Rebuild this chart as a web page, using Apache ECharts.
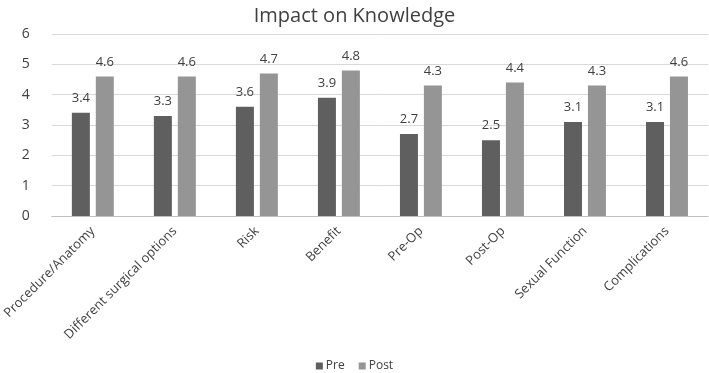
<!DOCTYPE html>
<html>
<head>
<meta charset="utf-8">
<script src="https://cdn.jsdelivr.net/npm/echarts@6/dist/echarts.min.js"></script>
<style>
  html, body { margin: 0; padding: 0; background: #fff; }
  #chart { width: 709px; height: 373px; }
</style>
</head>
<body>
<div id="chart"></div>
<script>
// data
var categories = ["Procedure/Anatomy", "Different surgical options", "Risk", "Benefit", "Pre-Op", "Post-Op", "Sexual Function", "Complications"];
var preValues = [3.4, 3.3, 3.6, 3.9, 2.7, 2.5, 3.1, 3.1];
var postValues = [4.6, 4.6, 4.7, 4.8, 4.3, 4.4, 4.3, 4.6];
var yTicks = [0, 1, 2, 3, 4, 5, 6];

var font = "'Open Sans', sans-serif";
var chart = echarts.init(document.getElementById("chart"));

var labelStyle = {
  show: true,
  position: "top",
  distance: 8,
  color: "#404040",
  fontSize: 13,
  fontFamily: font
};

var option = {
  animation: false,
  title: {
    text: "Impact on Knowledge",
    left: "center",
    top: 1,
    textStyle: { color: "#404040", fontSize: 20, fontWeight: "normal", fontFamily: font }
  },
  legend: {
    top: 355,
    left: "center",
    itemWidth: 7,
    itemHeight: 7,
    itemGap: 14,
    icon: "rect",
    textStyle: { color: "#404040", fontSize: 12, fontFamily: font, padding: [0, 0, 0, -2] },
    data: ["Pre", "Post"]
  },
  grid: {
    left: 47,
    right: 1,
    top: 34,
    bottom: 157,
    containLabel: false
  },
  xAxis: {
    type: "category",
    data: categories,
    axisTick: { show: false },
    axisLine: { lineStyle: { color: "#bfbfbf", width: 1 } },
    axisLabel: {
      rotate: 45,
      interval: 0,
      margin: 13,
      color: "#404040",
      fontSize: 13,
      fontFamily: font
    }
  },
  yAxis: {
    type: "value",
    min: yTicks[0],
    max: yTicks[yTicks.length - 1],
    interval: 1,
    axisLine: { show: false },
    axisTick: { show: false },
    splitLine: { lineStyle: { color: "#d9d9d9", width: 1 } },
    axisLabel: {
      margin: 22,
      color: "#404040",
      fontSize: 14,
      fontFamily: font
    }
  },
  series: [
    {
      name: "Pre",
      type: "bar",
      data: preValues,
      barWidth: 18,
      barGap: "33%",
      itemStyle: { color: "#5f5f5f" },
      label: labelStyle
    },
    {
      name: "Post",
      type: "bar",
      data: postValues,
      barWidth: 18,
      barGap: "33%",
      itemStyle: { color: "#959595" },
      label: labelStyle
    }
  ]
};

chart.setOption(option);
</script>
</body>
</html>
